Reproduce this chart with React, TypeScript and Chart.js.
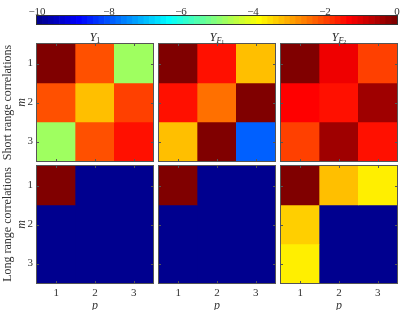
import React, { useEffect, useRef } from "react";
import { Chart, registerables } from "chart.js";
Chart.register(...registerables);

// ---------- data ----------
const pLabels = ["1", "2", "3"];
const mLabels = ["1", "2", "3"];
const cbTicks = [-10, -8, -6, -4, -2, 0];
const cMin = -10;
const cMax = 0;
const nLevels = 64;
const rowLabels = ["Short range correlations", "Long range correlations"];

// rows = m (1..3), columns = p (1..3)
const shortY1 = [
  [0, -2.15, -4.75],
  [-2.15, -3.2, -2.0],
  [-4.75, -2.1, -1.5],
];
const shortYF1 = [
  [0, -1.5, -3.2],
  [-1.5, -2.4, 0],
  [-3.2, 0, -7.9],
];
const shortYF2 = [
  [0, -1.2, -1.95],
  [-1.3, -1.45, -0.4],
  [-1.95, -0.4, -1.45],
];
const longY1 = [
  [0, -10, -10],
  [-10, -10, -10],
  [-10, -10, -10],
];
const longYF1 = [
  [0, -10, -10],
  [-10, -10, -10],
  [-10, -10, -10],
];
const longYF2 = [
  [0, -3.2, -3.65],
  [-3.35, -10, -10],
  [-3.65, -10, -10],
];

// ---------- colormap ----------
function jet(m: number): number[][] {
  const n = Math.ceil(m / 4);
  const u: number[] = [];
  for (let i = 1; i <= n; i++) u.push(i / n);
  for (let i = 1; i < n; i++) u.push(1);
  for (let i = n; i >= 1; i--) u.push(i / n);
  const gOff = Math.ceil(n / 2) - (m % 4 === 1 ? 1 : 0);
  const r = new Array(m).fill(0);
  const g = new Array(m).fill(0);
  const b = new Array(m).fill(0);
  for (let i = 0; i < u.length; i++) {
    const gi = gOff + i + 1;
    const ri = gi + n;
    const bi = gi - n;
    if (gi >= 1 && gi <= m) g[gi - 1] = u[i];
    if (ri >= 1 && ri <= m) r[ri - 1] = u[i];
    if (bi >= 1 && bi <= m) b[bi - 1] = u[i];
  }
  return r.map((_, k) => [r[k], g[k], b[k]]);
}
const jetMap = jet(nLevels);
const rgb = (c: number[]) =>
  `rgb(${Math.round(c[0] * 255)},${Math.round(c[1] * 255)},${Math.round(c[2] * 255)})`;
function colorFor(v: number): string {
  let idx = Math.floor(((v - cMin) / (cMax - cMin)) * nLevels);
  idx = Math.max(0, Math.min(nLevels - 1, idx));
  return rgb(jetMap[idx]);
}

const FONT = "'Liberation Serif', 'DejaVu Serif', serif";
const TXT = "#333";

// ---------- layout ----------
const colLeft = [37, 159, 281];
const rowTop = [44, 166];
const plotW = 116;
const plotH = 117;
const leftAxisW = 37;
const bottomAxisH = 27;

const framePlugin = {
  id: "frame",
  afterDatasetsDraw(chart: any) {
    const { ctx, chartArea: a } = chart;
    const xs = chart.scales.x;
    const ys = chart.scales.y;
    ctx.save();
    ctx.strokeStyle = "#555";
    ctx.lineWidth = 1;
    ctx.beginPath();
    pLabels.forEach((_, i) => {
      const px = Math.round(xs.getPixelForValue(i)) + 0.5;
      ctx.moveTo(px, a.top);
      ctx.lineTo(px, a.top + 2);
      ctx.moveTo(px, a.bottom);
      ctx.lineTo(px, a.bottom - 2);
    });
    mLabels.forEach((_, i) => {
      const py = Math.round(ys.getPixelForValue(i + 0.5)) + 0.5;
      ctx.moveTo(a.left, py);
      ctx.lineTo(a.left + 2, py);
      ctx.moveTo(a.right, py);
      ctx.lineTo(a.right - 2, py);
    });
    ctx.stroke();
    ctx.strokeRect(a.left - 0.5, a.top - 0.5, a.width + 1, a.height + 1);
    ctx.restore();
  },
};

const cbFramePlugin = {
  id: "cbframe",
  afterDraw(chart: any) {
    const { ctx, chartArea: a } = chart;
    ctx.save();
    ctx.strokeStyle = "#333";
    ctx.lineWidth = 1;
    ctx.strokeRect(a.left - 0.5, a.top - 0.5, a.width + 1, a.height + 1);
    ctx.restore();
  },
};

type PanelProps = {
  matrix: number[][];
  col: number;
  row: number;
};

function Panel({ matrix, col, row }: PanelProps) {
  const ref = useRef<HTMLCanvasElement>(null);
  const showY = col === 0;
  const showX = row === 1;
  const padL = showY ? 0 : 1;
  const padT = 1;
  const padR = 1;
  const padB = showX ? 0 : 1;
  const left = colLeft[col] - (showY ? leftAxisW : 1);
  const top = rowTop[row] - 1;
  const width = (showY ? leftAxisW : 1) + plotW + 1;
  const height = 1 + plotH + (showX ? bottomAxisH : 1);

  useEffect(() => {
    if (!ref.current) return;
    const datasets = matrix.map((r, mi) => ({
      label: "m=" + mLabels[mi],
      data: r.map(() => 1),
      backgroundColor: r.map(colorFor),
      borderWidth: 0,
      barPercentage: 1,
      categoryPercentage: 1,
    }));
    const fixV = (w: number) => (s: any) => {
      s.width = showY ? w : 0;
      s.paddingTop = 0;
      s.paddingBottom = 0;
    };
    const chart = new Chart(ref.current, {
      type: "bar",
      data: { labels: pLabels, datasets },
      plugins: [framePlugin],
      options: {
        responsive: false,
        animation: false,
        events: [],
        layout: { padding: { left: padL, top: padT, right: padR, bottom: padB } },
        plugins: { legend: { display: false }, tooltip: { enabled: false } },
        scales: {
          x: {
            type: "category",
            stacked: true,
            offset: true,
            display: showX,
            grid: { display: false, drawTicks: false },
            border: { display: false },
            ticks: { font: { family: FONT, size: 11 }, color: TXT, padding: 4 },
            title: {
              display: true,
              text: "p",
              font: { family: FONT, size: 12, style: "italic", lineHeight: 1 },
              color: TXT,
              padding: { top: 0, bottom: -2 },
            },
            afterFit: (s: any) => {
              s.height = showX ? bottomAxisH : 0;
              s.paddingLeft = 0;
              s.paddingRight = 0;
            },
          },
          y: {
            type: "linear",
            min: 0,
            max: 3,
            reverse: true,
            stacked: true,
            display: showY,
            weight: 0,
            grid: { display: false, drawTicks: false },
            border: { display: false },
            afterBuildTicks: (s: any) => {
              s.ticks = mLabels.map((_, i) => ({ value: i + 0.5 }));
            },
            ticks: {
              font: { family: FONT, size: 11 },
              color: TXT,
              padding: 4,
              callback: (_v: any, i: number) => mLabels[i],
            },
            title: {
              display: true,
              text: "m",
              font: { family: FONT, size: 12, style: "italic" },
              color: TXT,
              padding: 0,
            },
            afterFit: fixV(22),
          },
          yOuter: {
            type: "linear",
            position: "left",
            display: showY,
            weight: 1,
            grid: { display: false, drawTicks: false },
            border: { display: false },
            ticks: { display: false },
            title: {
              display: true,
              text: rowLabels[row],
              font: { family: FONT, size: 12 },
              color: TXT,
              padding: 1,
            },
            afterFit: fixV(15),
          },
        },
      } as any,
    });
    return () => chart.destroy();
  }, [matrix, col, row]);

  return (
    <canvas
      ref={ref}
      width={width}
      height={height}
      style={{ position: "absolute", left, top, width, height }}
    />
  );
}

function ColorBar() {
  const ref = useRef<HTMLCanvasElement>(null);
  useEffect(() => {
    if (!ref.current) return;
    const levels = jetMap.map((_, i) => String(i));
    const chart = new Chart(ref.current, {
      type: "bar",
      data: {
        labels: levels,
        datasets: [
          {
            data: levels.map(() => 1),
            backgroundColor: jetMap.map(rgb),
            borderWidth: 0,
            barPercentage: 1,
            categoryPercentage: 1,
          },
        ],
      },
      plugins: [cbFramePlugin],
      options: {
        responsive: false,
        animation: false,
        events: [],
        layout: { padding: { left: 37, right: 10, top: 0, bottom: 1 } },
        plugins: { legend: { display: false }, tooltip: { enabled: false } },
        scales: {
          x: { display: false, offset: true },
          y: { display: false, min: 0, max: 1 },
          x2: {
            type: "linear",
            position: "top",
            min: cMin,
            max: cMax,
            offset: false,
            z: 1,
            afterBuildTicks: (s: any) => {
              s.ticks = cbTicks.map((v) => ({ value: v }));
            },
            ticks: {
              font: { family: FONT, size: 11 },
              color: TXT,
              padding: -3,
              maxRotation: 0,
              callback: (v: any) => (v < 0 ? "\u2212" + Math.abs(v) : String(v)),
            },
            grid: { drawOnChartArea: true, drawTicks: false, offset: false, color: "#333" },
            border: { display: false },
            afterFit: (s: any) => {
              s.height = 16;
            },
          },
        },
      } as any,
    });
    return () => chart.destroy();
  }, []);
  return (
    <canvas
      ref={ref}
      width={407}
      height={25}
      style={{ position: "absolute", left: 0, top: 0, width: 407, height: 25 }}
    />
  );
}

const subStyle = { fontSize: "8px", verticalAlign: "-2px" } as const;
const subSubStyle = { fontSize: "6px", verticalAlign: "-1px", fontStyle: "normal" } as const;

function Title({ col }: { col: number }) {
  const content =
    col === 0 ? (
      <>
        <i>Y</i>
        <span style={subStyle}>1</span>
      </>
    ) : (
      <>
        <i>Y</i>
        <span style={{ ...subStyle, fontStyle: "italic" }}>
          F<span style={subSubStyle}>{col}</span>
        </span>
      </>
    );
  return (
    <div
      style={{
        position: "absolute",
        left: colLeft[col],
        width: plotW,
        top: 30,
        height: 14,
        lineHeight: "14px",
        textAlign: "center",
        fontFamily: FONT,
        fontSize: "12px",
        color: "#222",
      }}
    >
      {content}
    </div>
  );
}

const matrices = [
  [shortY1, shortYF1, shortYF2],
  [longY1, longYF1, longYF2],
];

export default function App() {
  return (
    <div
      style={{
        position: "fixed",
        left: 0,
        top: 0,
        width: 407,
        height: 310,
        background: "#fff",
        overflow: "hidden",
      }}
    >
      <ColorBar />
      {matrices.map((rowMats, r) =>
        rowMats.map((m, c) => <Panel key={r + "-" + c} matrix={m} col={c} row={r} />)
      )}
      {[0, 1, 2].map((c) => (
        <Title key={"t" + c} col={c} />
      ))}
    </div>
  );
}
